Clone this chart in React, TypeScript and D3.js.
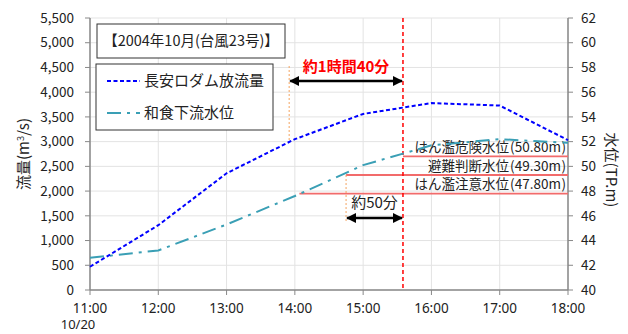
import React from 'react';
import * as d3 from 'd3';

// hours (decimal) of the samples
const hours = [11, 12, 13, 14, 15, 16, 17, 18];
// 長安ロダム放流量 (m3/s)
const outflow = [470, 1310, 2360, 3050, 3560, 3780, 3730, 3030];
// 和食下流水位 (TP.m)
const waterLevel = [42.6, 43.2, 45.3, 47.6, 50.1, 51.7, 52.2, 51.9];

const flowTicks = d3.range(0, 5501, 500);
const levelTicks = d3.range(40, 63, 2);
const hourTicks = [11, 12, 13, 14, 15, 16, 17, 18];

// reference levels
const levels = [
  { name: 'はん濫危険水位', value: 50.8, from: 15 + 35 / 60 },
  { name: '避難判断水位', value: 49.3, from: 14.75 },
  { name: 'はん濫注意水位', value: 47.8, from: 14 + 4 / 60 },
];
const peakTime = 15 + 35 / 60;
const flowMarkTime = 13 + 55 / 60;
const levelMarkTime = 14.75;

const W = 628;
const H = 334;
const font = '"Noto Sans CJK JP", "Noto Sans", sans-serif';
const numFont = '"Noto Sans", sans-serif';

export default function App() {
  const margin = { top: 18, right: 60, bottom: 44, left: 90 };
  const x = d3.scaleLinear().domain([11, 18]).range([margin.left, W - margin.right]);
  const y = d3.scaleLinear().domain([0, 5500]).range([H - margin.bottom, margin.top]);
  const y2 = d3.scaleLinear().domain([40, 62]).range([H - margin.bottom, margin.top]);

  const flowLine = d3.line<number>().x((d, i) => x(hours[i])).y(d => y(d));
  const levelLine = d3.line<number>().x((d, i) => x(hours[i])).y(d => y2(d));

  const x0 = x(11), x1 = x(18), yb = y(0), yt = y(5500);
  const flowAt = d3.scaleLinear().domain(hours).range(outflow);

  const arrowY1 = 81;
  const arrowY2 = 218;

  return (
    <svg width={W} height={H} style={{ position: 'absolute', left: 0, top: 0, background: '#fff' }} fontFamily={font}>
      <defs>
        <marker id="ah" viewBox="0 0 10 10" refX="9" refY="5" markerWidth="4" markerHeight="4" orient="auto-start-reverse">
          <path d="M0,0 L10,5 L0,10 z" fill="#000" />
        </marker>
      </defs>

      {/* grid */}
      {flowTicks.map(t => (
        <line key={'gy' + t} x1={x0} x2={x1} y1={y(t)} y2={y(t)} stroke="#e3e3e3" strokeWidth={1} />
      ))}
      {hourTicks.map(t => (
        <line key={'gx' + t} x1={x(t)} x2={x(t)} y1={yt} y2={yb} stroke="#e3e3e3" strokeWidth={1} />
      ))}

      {/* axes */}
      <line x1={x0} x2={x0} y1={yt} y2={yb} stroke="#888" strokeWidth={1.5} />
      <line x1={x1} x2={x1} y1={yt} y2={yb} stroke="#888" strokeWidth={1.5} />
      <line x1={x0} x2={x1} y1={yb} y2={yb} stroke="#888" strokeWidth={1.5} />
      {flowTicks.map(t => (
        <g key={'ly' + t}>
          <line x1={x0 - 5} x2={x0} y1={y(t)} y2={y(t)} stroke="#888" />
          <text x={x0 - 16} y={y(t)} dy="0.35em" textAnchor="end" fontSize={13.5} fill="#222">
            {d3.format(',')(t)}
          </text>
        </g>
      ))}
      {levelTicks.map(t => (
        <g key={'ry' + t}>
          <line x1={x1} x2={x1 + 5} y1={y2(t)} y2={y2(t)} stroke="#888" />
          <text x={x1 + 13} y={y2(t)} dy="0.35em" textAnchor="start" fontSize={13.5} fill="#222">
            {t}
          </text>
        </g>
      ))}
      {hourTicks.map(t => (
        <g key={'bx' + t}>
          <line x1={x(t)} x2={x(t)} y1={yb} y2={yb + 5} stroke="#888" />
          <text x={x(t)} y={yb + 18} dy="0.35em" textAnchor="middle" fontSize={13.5} fontFamily={numFont} fill="#222">
            {t + ':00'}
          </text>
        </g>
      ))}
      <text x={x0 - 12} y={yb + 34} dy="0.35em" textAnchor="middle" fontSize={13} fontFamily={numFont} fill="#222">10/20</text>

      <text transform={`translate(24,154) rotate(-90)`} textAnchor="middle" dy="0.35em" fontSize={15} fill="#222">
        流量(m<tspan fontSize={9} dy="-5">3</tspan><tspan dy="5">/s)</tspan>
      </text>
      <text transform={`translate(611,170) rotate(90)`} textAnchor="middle" dy="0.35em" fontSize={15} fill="#222">
        水位(TP.m)
      </text>

      {/* level lines */}
      {levels.map(l => (
        <g key={l.name}>
          <line x1={x(l.from)} x2={x1} y1={y2(l.value)} y2={y2(l.value)} stroke="#f26b6b" strokeWidth={1.8} />
          <text x={x1 - 2} y={y2(l.value) - 9} dy="0.35em" textAnchor="end" fontSize={13.5} fill="#222">
            {l.name}<tspan dx="1">(</tspan>{l.value.toFixed(2)}m<tspan dx="0.5">)</tspan>
          </text>
        </g>
      ))}

      {/* marker lines */}
      <line x1={x(flowMarkTime)} x2={x(flowMarkTime)} y1={66} y2={y(flowAt(flowMarkTime))} stroke="#f4a460" strokeWidth={1} strokeDasharray="2,2" />
      <line x1={x(levelMarkTime)} x2={x(levelMarkTime)} y1={y2(49.3)} y2={222} stroke="#f4a460" strokeWidth={1} strokeDasharray="2,2" />
      <line x1={x(peakTime)} x2={x(peakTime)} y1={yt} y2={yb} stroke="#ff0000" strokeWidth={1.5} strokeDasharray="4,3" />

      {/* series */}
      <path d={levelLine(waterLevel) ?? ''} fill="none" stroke="#3a9fb5" strokeWidth={2} strokeDasharray="14,6,3,6" />
      <path d={flowLine(outflow) ?? ''} fill="none" stroke="#0000ff" strokeWidth={2} strokeDasharray="4,2.5" />

      {/* arrows */}
      <line x1={x(flowMarkTime) + 1} x2={x(peakTime) - 1} y1={arrowY1} y2={arrowY1} stroke="#000" strokeWidth={2.5} markerStart="url(#ah)" markerEnd="url(#ah)" />
      <text x={(x(flowMarkTime) + x(peakTime)) / 2} y={67} dy="0.35em" textAnchor="middle" fontSize={15} fontWeight="bold" fill="#ff0000">
        約1時間40分
      </text>
      <line x1={x(levelMarkTime) + 1} x2={x(peakTime) - 1} y1={arrowY2} y2={arrowY2} stroke="#000" strokeWidth={2.5} markerStart="url(#ah)" markerEnd="url(#ah)" />
      <text x={(x(levelMarkTime) + x(peakTime)) / 2} y={203} dy="0.35em" textAnchor="middle" fontSize={15} fill="#222">
        約50分
      </text>

      {/* title box */}
      <rect x={97} y={24} width={188} height={34} fill="#fff" stroke="#333" strokeWidth={1} />
      <text x={191} y={41} dy="0.35em" textAnchor="middle" fontSize={14.5} fill="#222">【2004年10月(台風23号)】</text>

      {/* legend */}
      <rect x={96} y={64} width={177} height={66} fill="#fff" stroke="#333" strokeWidth={1} />
      <line x1={107} x2={140} y1={81} y2={81} stroke="#0000ff" strokeWidth={2} strokeDasharray="4,2.5" />
      <text x={144} y={81} dy="0.35em" fontSize={15} fill="#222">長安ロダム放流量</text>
      <line x1={107} x2={140} y1={113} y2={113} stroke="#3a9fb5" strokeWidth={2} strokeDasharray="14,6,3,6" />
      <text x={144} y={113} dy="0.35em" fontSize={15} fill="#222">和食下流水位</text>
    </svg>
  );
}
